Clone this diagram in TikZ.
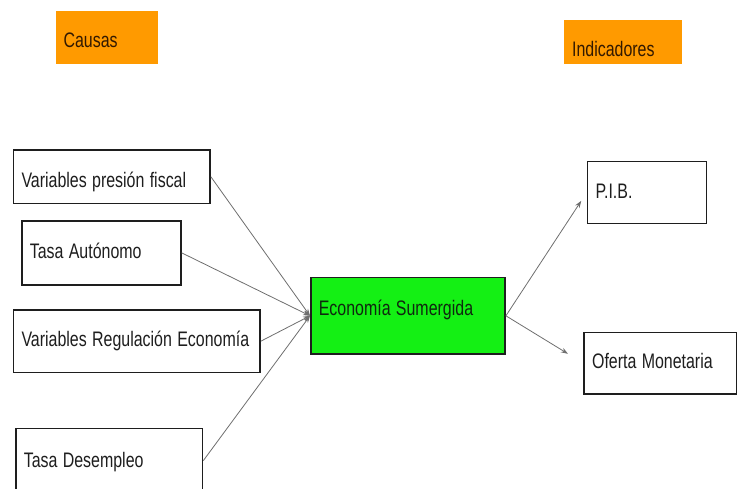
\documentclass[tikz,border=0pt]{standalone}
\usepackage{fontspec}
\setmainfont{Liberation Sans}
\usetikzlibrary{arrows.meta}
\newcommand\sx[1]{\scalebox{0.76}[1]{#1}}
\definecolor{orangebox}{RGB}{255,154,0}
\definecolor{greenbox}{RGB}{20,240,20}
\definecolor{arrowgray}{RGB}{110,110,110}
\definecolor{darktext}{RGB}{30,30,30}
\tikzset{
  every node/.style={font=\fontsize{21}{24}\selectfont},
  box/.style={rectangle, draw=darktext, line width=1.6pt, fill=white,
    inner xsep=8pt, inner ysep=0pt, align=left, text=darktext, anchor=north west},
  headbox/.style={box, draw=none, fill=orangebox, text={rgb,255:red,50;green,25;blue,0}},
  mainbox/.style={box, fill=greenbox, text={rgb,255:red,15;green,40;blue,15}},
  conn/.style={draw=arrowgray, line width=0.8pt, -{Stealth[length=7pt,width=5pt]}}
}
\begin{document}
\begin{tikzpicture}[x=1pt,y=-1pt]
\useasboundingbox (0,0) rectangle (737,488);
\begin{scope}
\clip (0,0) rectangle (737,488);
\node[headbox, minimum width=102pt, minimum height=52.7pt, text width=86pt, text height=21.4pt, text depth=0pt] (causas) at (54.7,10) {\sx{Causas}};
\node[headbox, minimum width=117.7pt, minimum height=43.4pt, text width=101.7pt, text height=30pt, text depth=0pt] (indic) at (563.3,19.3) {\sx{Indicadores}};

\node[box, minimum width=196.6pt, minimum height=53.4pt, text width=180.6pt, text height=21.4pt, text depth=0pt] (b1) at (12.7,149.3) {\sx{Variables presión fiscal}};
\node[box, minimum width=159pt, minimum height=64pt, text width=143pt, text height=12pt, text depth=0pt] (b2) at (21,220) {\sx{Tasa Autónomo}};
\node[box, minimum width=246.6pt, minimum height=62.7pt, text width=230.6pt, text height=10pt, text depth=0pt] (b3) at (12.7,309) {\sx{Variables Regulación Economía}};
\node[box, minimum width=186.7pt, minimum height=64.3pt, text width=170.7pt, text height=14pt, text depth=0pt] (b4) at (15,427.7) {\sx{Tasa Desempleo}};

\node[mainbox, minimum width=194.3pt, minimum height=76.6pt, text width=178.3pt, text height=0pt, text depth=0pt] (eco) at (310,276.7) {\sx{Economía Sumergida}};

\node[box, minimum width=119pt, minimum height=62pt, text width=103pt, text height=12.6pt, text depth=0pt] (pib) at (586.7,160.7) {\sx{P.I.B.}};
\node[box, minimum width=152.2pt, minimum height=61.3pt, text width=136.2pt, text height=10.6pt, text depth=0pt] (ofe) at (583.3,331.7) {\sx{Oferta Monetaria}};

\draw[conn] (b1.east) -- (eco.west);
\draw[conn] (b2.east) -- (eco.west);
\draw[conn] (b3.east) -- (eco.west);
\draw[conn] (b4.east) -- (eco.west);
\draw[conn, shorten >=10pt] (eco.east) -- (pib.west);
\draw[conn, shorten >=18pt] (eco.east) -- (ofe.west);
\end{scope}
\end{tikzpicture}
\end{document}
